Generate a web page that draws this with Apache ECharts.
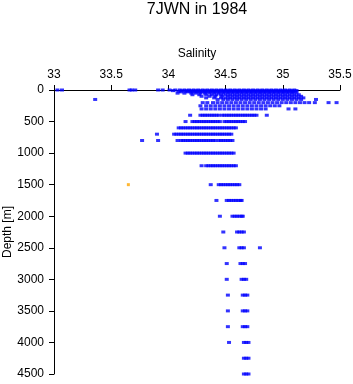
<!DOCTYPE html>
<html>
<head>
<meta charset="utf-8">
<script src="https://cdn.jsdelivr.net/npm/echarts@6/dist/echarts.min.js"></script>
<style>
    html, body { margin: 0; padding: 0; background: #fff; }
    #main { width: 353px; height: 384px; }
</style>
</head>
<body>
<div id="main"></div>
<script>
    // salinity values read per standard depth level [m]
    var s0 = [33.03, 33.07, 33.66, 33.68, 33.71, 33.91, 33.95, 34.01, 34.06, 34.10, 34.14, 34.18, 34.22, 34.26, 34.30, 34.34, 34.38, 34.42, 34.46, 34.50, 34.54, 34.58, 34.62, 34.66, 34.70, 34.74, 34.78, 34.82, 34.86, 34.90, 34.94, 34.98, 35.02, 35.06, 35.10];
    var s10 = [34.04, 34.12, 34.16, 34.20, 34.24, 34.28, 34.32, 34.36, 34.40, 34.44, 34.48, 34.52, 34.56, 34.60, 34.64, 34.68, 34.72, 34.76, 34.80, 34.84, 34.88, 34.92, 34.96, 35.00, 35.04, 35.08, 35.12];
    var s20 = [34.09, 34.15, 34.19, 34.23, 34.27, 34.31, 34.35, 34.39, 34.43, 34.47, 34.51, 34.55, 34.59, 34.63, 34.67, 34.71, 34.75, 34.79, 34.83, 34.87, 34.91, 34.95, 34.99, 35.03, 35.07, 35.11];
    var s30 = [34.11, 34.17, 34.21, 34.25, 34.29, 34.33, 34.37, 34.41, 34.45, 34.49, 34.53, 34.57, 34.61, 34.65, 34.69, 34.73, 34.77, 34.81, 34.85, 34.89, 34.93, 34.97, 35.01, 35.05, 35.09];
    var s50 = [34.08, 34.14, 34.20, 34.24, 34.28, 34.32, 34.36, 34.40, 34.44, 34.48, 34.52, 34.56, 34.60, 34.64, 34.68, 34.72, 34.76, 34.80, 34.84, 34.88, 34.92, 34.96, 35.00, 35.04, 35.08, 35.12];
    var s75 = [34.21, 34.27, 34.33, 34.38, 34.42, 34.46, 34.50, 34.54, 34.58, 34.62, 34.66, 34.70, 34.74, 34.78, 34.82, 34.86, 34.90, 34.94, 34.98, 35.02, 35.06, 35.10, 35.14];
    var s100 = [34.29, 34.36, 34.41, 34.47, 34.52, 34.56, 34.60, 34.64, 34.68, 34.72, 34.76, 34.80, 34.84, 34.88, 34.92, 34.96, 35.00, 35.04, 35.08, 35.12, 35.16];
    var s125 = [34.33, 34.40, 34.46, 34.50, 34.54, 34.58, 34.62, 34.66, 34.70, 34.74, 34.78, 34.82, 34.86, 34.90, 34.94, 34.98, 35.02, 35.06, 35.10, 35.14, 35.18];
    var s150 = [33.36, 34.43, 34.48, 34.52, 34.56, 34.60, 34.64, 34.68, 34.72, 34.76, 34.80, 34.84, 34.88, 34.92, 34.96, 35.00, 35.04, 35.08, 35.12, 35.16, 35.29];
    var s200 = [34.30, 34.34, 34.39, 34.43, 34.47, 34.51, 34.55, 34.59, 34.63, 34.67, 34.71, 34.75, 34.79, 34.83, 34.87, 34.91, 34.95, 34.99, 35.03, 35.07, 35.11, 35.15, 35.19, 35.23, 35.28, 35.40, 35.47];
    var s250 = [34.28, 34.33, 34.37, 34.41, 34.45, 34.49, 34.53, 34.57, 34.61, 34.65, 34.69, 34.73, 34.77, 34.81, 34.85, 34.89, 34.93, 34.97];
    var s300 = [34.29, 34.33, 34.37, 34.41, 34.45, 34.49, 34.53, 34.57, 34.61, 34.65, 34.69, 34.73, 34.77, 34.81, 34.85, 35.05, 35.11];
    var s400 = [34.19, 34.28, 34.30, 34.32, 34.34, 34.36, 34.38, 34.40, 34.42, 34.44, 34.47, 34.49, 34.51, 34.53, 34.55, 34.57, 34.59, 34.61, 34.63, 34.65, 34.67, 34.69, 34.71, 34.73, 34.75, 34.77, 34.86];
    var s500 = [34.15, 34.21, 34.23, 34.25, 34.27, 34.29, 34.31, 34.33, 34.35, 34.37, 34.39, 34.41, 34.43, 34.45, 34.49, 34.51, 34.53, 34.55, 34.57, 34.59, 34.61, 34.63, 34.65, 34.67];
    var s600 = [34.09, 34.11, 34.13, 34.15, 34.17, 34.19, 34.21, 34.23, 34.25, 34.27, 34.29, 34.31, 34.33, 34.35, 34.37, 34.39, 34.41, 34.43, 34.45, 34.47, 34.49, 34.51, 34.53, 34.55, 34.57, 34.59];
    var s700 = [33.90, 34.05, 34.07, 34.09, 34.11, 34.13, 34.15, 34.17, 34.19, 34.21, 34.23, 34.25, 34.27, 34.29, 34.31, 34.33, 34.35, 34.37, 34.39, 34.41, 34.43, 34.45, 34.47, 34.49, 34.51, 34.53, 34.55];
    var s800 = [33.77, 33.91, 34.08, 34.11, 34.13, 34.15, 34.17, 34.19, 34.21, 34.23, 34.25, 34.27, 34.29, 34.31, 34.33, 34.35, 34.37, 34.39, 34.41, 34.44, 34.46, 34.48, 34.50, 34.52, 34.54, 34.56];
    var s1000 = [34.15, 34.17, 34.19, 34.21, 34.23, 34.25, 34.27, 34.29, 34.31, 34.33, 34.35, 34.37, 34.39, 34.41, 34.43, 34.45, 34.47, 34.49, 34.51, 34.53, 34.55, 34.57];
    var s1200 = [34.29, 34.33, 34.35, 34.37, 34.39, 34.41, 34.43, 34.45, 34.47, 34.49, 34.51, 34.53, 34.55, 34.57, 34.59];
    var s1500 = [34.37, 34.44, 34.46, 34.48, 34.50, 34.52, 34.54, 34.56, 34.58, 34.60, 34.62];
    var s1750 = [34.42, 34.51, 34.53, 34.55, 34.57, 34.59, 34.61, 34.63, 34.64];
    var s2000 = [34.45, 34.56, 34.58, 34.60, 34.62, 34.64, 34.65];
    var s2250 = [34.48, 34.60, 34.62, 34.64, 34.66];
    var s2500 = [34.49, 34.62, 34.64, 34.66, 34.80];
    var s2750 = [34.51, 34.63, 34.65, 34.67];
    var s3000 = [34.51, 34.64, 34.66, 34.68];
    var s3250 = [34.52, 34.65, 34.67, 34.69];
    var s3500 = [34.52, 34.65, 34.67, 34.69];
    var s3750 = [34.52, 34.65, 34.67, 34.69];
    var s4000 = [34.53, 34.66, 34.68, 34.70];
    var s4250 = [34.66, 34.68, 34.70];
    var s4500 = [34.66, 34.68, 34.70];

    var depths = [0, 10, 20, 30, 50, 75, 100, 125, 150, 200, 250, 300, 400, 500, 600, 700, 800,
        1000, 1200, 1500, 1750, 2000, 2250, 2500, 2750, 3000, 3250, 3500, 3750, 4000, 4250, 4500];
    var rows = [s0, s10, s20, s30, s50, s75, s100, s125, s150, s200, s250, s300, s400, s500, s600, s700, s800,
        s1000, s1200, s1500, s1750, s2000, s2250, s2500, s2750, s3000, s3250, s3500, s3750, s4000, s4250, s4500];

    // flagged sample
    var flagged = [[33.65, 1500]];

    var blueData = [];
    rows.forEach(function (row, i) {
        row.forEach(function (s) {
            blueData.push([s, depths[i]]);
        });
    });

    var font = 'Liberation Sans, Arial, sans-serif';
    var chart = echarts.init(document.getElementById('main'));
    chart.setOption({
        animation: false,
        title: {
            text: '7JWN in 1984',
            left: 197,
            textAlign: 'center',
            top: 2,
            padding: 0,
            textStyle: { fontFamily: font, fontSize: 16, fontWeight: 'normal', color: '#000' }
        },
        grid: { left: 54, right: 13, top: 90, bottom: 10, containLabel: false, outerBoundsMode: 'none' },
        xAxis: {
            type: 'value',
            position: 'top',
            min: 33, max: 35.5, interval: 0.5,
            name: 'Salinity',
            nameLocation: 'middle',
            nameGap: 30,
            nameMoveOverlap: false,
            nameTextStyle: { fontFamily: font, fontSize: 12, color: '#000' },
            axisLine: { onZero: false, lineStyle: { color: '#000', width: 1 } },
            axisTick: { show: true, length: 5, lineStyle: { color: '#000' } },
            axisLabel: { fontFamily: font, fontSize: 12, color: '#000', margin: 9, showMinLabel: true, showMaxLabel: true },
            splitLine: { show: false }
        },
        yAxis: {
            type: 'value',
            inverse: true,
            min: 0, max: 4500, interval: 500,
            name: 'Depth [m]',
            nameLocation: 'middle',
            nameGap: 40,
            nameMoveOverlap: false,
            nameTextStyle: { fontFamily: font, fontSize: 12, color: '#000' },
            axisLine: { show: true, onZero: false, lineStyle: { color: '#000', width: 1 } },
            axisTick: { show: true, length: 5, lineStyle: { color: '#000' } },
            axisLabel: {
                fontFamily: font, fontSize: 12, color: '#000', margin: 10,
                formatter: function (v) { return String(v); }
            },
            splitLine: { show: false }
        },
        series: [
            {
                type: 'scatter',
                data: blueData,
                symbol: 'rect',
                symbolSize: [4, 3],
                clip: false,
                itemStyle: { color: '#0000ff' }
            },
            {
                type: 'scatter',
                data: flagged,
                symbol: 'rect',
                symbolSize: 3,
                clip: false,
                itemStyle: { color: '#ffa500' }
            }
        ]
    });
</script>
</body>
</html>
